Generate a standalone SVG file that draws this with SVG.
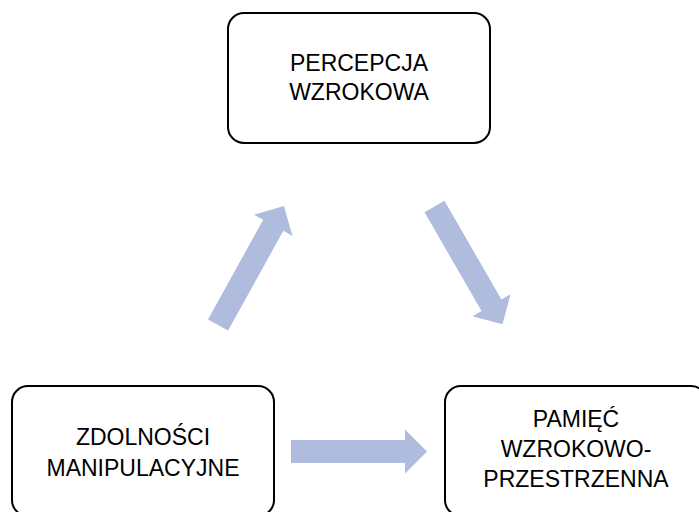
<svg xmlns="http://www.w3.org/2000/svg" width="699" height="512" viewBox="0 0 699 512">
<style>
.box{fill:#fff;stroke:#000;stroke-width:2}
.lbl{font-family:"Liberation Sans",Arial,sans-serif;font-size:23px;fill:#000;text-anchor:middle}
.arr{fill:#AFBCDE}
</style>
<defs>
<path id="a" d="M0,-11.5 L114,-11.5 L114,-22 L136,0 L114,22 L114,11.5 L0,11.5 Z"/>
</defs>
<rect width="699" height="512" fill="#fff"/>
<g id="connectors">
<use href="#a" class="arr" transform="translate(218,325) rotate(-61)"/>
<use href="#a" class="arr" transform="translate(434.5,206.5) rotate(60)"/>
<use href="#a" class="arr" transform="translate(291,451.5)"/>
</g>
<g id="percepcja">
<rect class="box" x="228" y="13" width="262" height="130" rx="16"/>
<text class="lbl" x="359" y="71">PERCEPCJA</text>
<text class="lbl" x="359" y="100">WZROKOWA</text>
</g>
<g id="zdolnosci">
<rect class="box" x="12" y="386" width="262" height="130" rx="16"/>
<text class="lbl" x="143" y="445">ZDOLNOŚCI</text>
<text class="lbl" x="143" y="476">MANIPULACYJNE</text>
</g>
<g id="pamiec">
<rect class="box" x="445" y="386" width="262" height="130" rx="16"/>
<text class="lbl" x="576" y="427">PAMIĘĆ</text>
<text class="lbl" x="576" y="457">WZROKOWO-</text>
<text class="lbl" x="576" y="487">PRZESTRZENNA</text>
</g>
</svg>
